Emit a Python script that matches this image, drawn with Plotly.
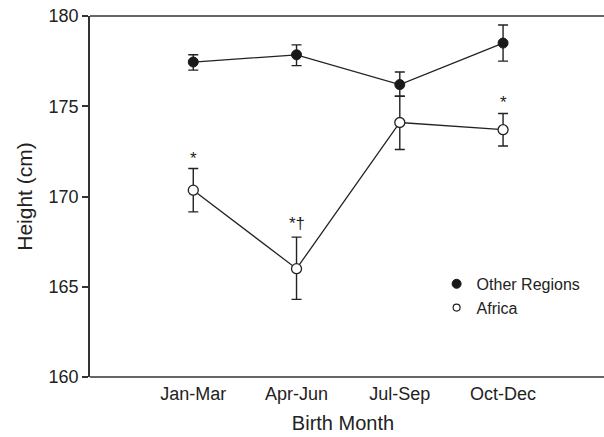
import plotly.graph_objects as go

months = ["Jan-Mar", "Apr-Jun", "Jul-Sep", "Oct-Dec"]
xpos = [1, 2, 3, 4]

other_mean = [177.45, 177.85, 176.2, 178.5]
other_up = [0.4, 0.55, 0.7, 1.0]
other_down = [0.45, 0.6, 0.65, 1.0]

africa_mean = [170.35, 166.0, 174.1, 173.7]
africa_up = [1.2, 1.75, 1.45, 0.9]
africa_down = [1.2, 1.7, 1.5, 0.9]

marks = ["*", "*†", "", "*"]
mark_shift = [-1, 2, 0, -1]

line_col = "#222222"
font = "Liberation Sans, Arial, Helvetica, sans-serif"

fig = go.Figure()
fig.add_trace(go.Scatter(
    x=xpos, y=other_mean, mode="lines+markers", name="Other Regions", showlegend=False,
    line=dict(color=line_col, width=1.3),
    marker=dict(symbol="circle", size=10, color="#1a1a1a", line=dict(color="#1a1a1a", width=1)),
    error_y=dict(type="data", array=other_up, arrayminus=other_down, color=line_col, thickness=1.4, width=5),
))
fig.add_trace(go.Scatter(
    x=xpos, y=africa_mean, mode="lines+markers", name="Africa", showlegend=False,
    line=dict(color=line_col, width=1.3),
    marker=dict(symbol="circle", size=10, color="white", line=dict(color=line_col, width=1.3)),
    error_y=dict(type="data", array=africa_up, arrayminus=africa_down, color=line_col, thickness=1.4, width=5),
))
# legend-only entries (markers without lines)
fig.add_trace(go.Scatter(
    x=[None], y=[None], mode="markers", name="Other Regions",
    marker=dict(symbol="circle", size=9, color="#1a1a1a", line=dict(color="#1a1a1a", width=1)),
))
fig.add_trace(go.Scatter(
    x=[None], y=[None], mode="markers", name="Africa",
    marker=dict(symbol="circle", size=7, color="white", line=dict(color=line_col, width=1.2)),
))

for xi, m, u, s, sh in zip(xpos, africa_mean, africa_up, marks, mark_shift):
    if s:
        fig.add_annotation(x=xi, y=m + u, text=s, showarrow=False, yanchor="bottom",
                           yshift=sh, font=dict(family=font, size=17, color="#222"))

# top frame line (plot border only, no right border), extended to page edge
fig.add_shape(type="line", xref="paper", yref="paper", x0=0, x1=1.02, y0=1, y1=1,
              line=dict(color="#333", width=1.5), layer="above")
# bottom axis extension to page edge
fig.add_shape(type="line", xref="paper", yref="paper", x0=0, x1=1.02, y0=0, y1=0,
              line=dict(color="#333", width=1.5), layer="above")

fig.update_layout(
    width=604, height=437,
    margin=dict(l=90, r=8, t=16, b=60, autoexpand=False),
    paper_bgcolor="white", plot_bgcolor="white",
    font=dict(family=font, size=18, color="#222"),
    showlegend=True,
    legend=dict(x=0.685, y=0.305, xanchor="left", yanchor="top", bgcolor="rgba(0,0,0,0)",
                font=dict(family=font, size=16, color="#222"), itemwidth=30, tracegroupgap=0),
    xaxis=dict(range=[0, 4.9], tickmode="array", tickvals=xpos, ticktext=months,
               showline=False, ticks="",
               ticklabelstandoff=4,
               showgrid=False, zeroline=False, automargin=False,
               title=dict(text="Birth Month", font=dict(size=20), standoff=12)),
    yaxis=dict(range=[160, 180], tickvals=[160, 165, 170, 175, 180],
               showline=True, linecolor="#333", linewidth=1.5, ticks="outside", ticklen=6,
               tickcolor="#333", tickwidth=1.5, showgrid=False, zeroline=False, automargin=False,
               title=dict(text="Height (cm)", font=dict(size=21), standoff=10)),
)

fig.write_html("out.html", config={"displayModeBar": False},
               post_script="document.body.style.margin='0';document.body.style.overflow='hidden';")
